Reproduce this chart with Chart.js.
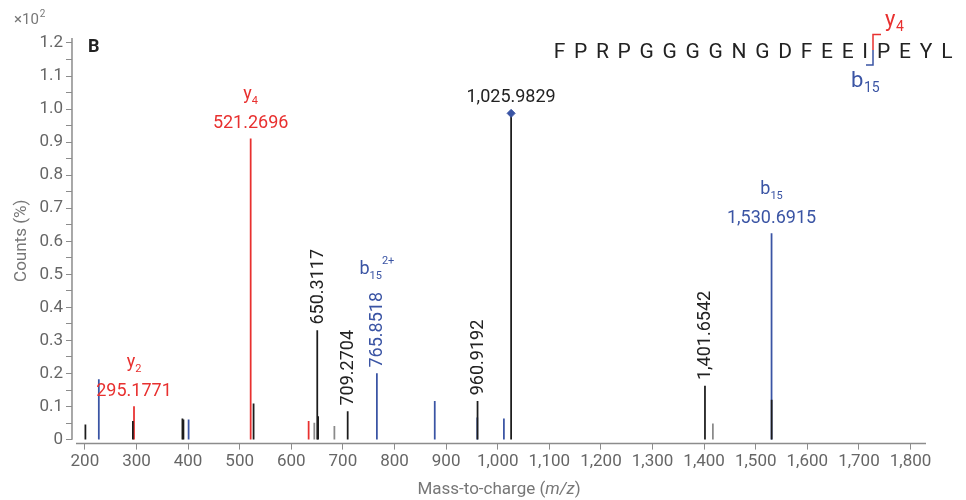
<!DOCTYPE html>
<html>
<head>
<meta charset="utf-8">
<script src="https://cdn.jsdelivr.net/npm/chart.js@4.4.1/dist/chart.umd.min.js"></script>
<style>
  html, body { margin: 0; padding: 0; background: #fff; }
  #wrap { width: 966px; height: 500px; position: relative; }
</style>
</head>
<body>
<div id="wrap"><canvas id="canvas"></canvas></div>
<script>
// tick values
const xTicks = [200, 300, 400, 500, 600, 700, 800, 900, 1000, 1100, 1200, 1300, 1400, 1500, 1600, 1700, 1800];
const yTicks = [0, 0.05, 0.1, 0.15, 0.2, 0.25, 0.3, 0.35, 0.4, 0.45, 0.5, 0.55, 0.6,
  0.65, 0.7, 0.75, 0.8, 0.85, 0.9, 0.95, 1.0, 1.05, 1.1, 1.15, 1.2];

// peaks (m/z, counts x10^2 %)
const blackMz = [201, 293, 389, 391, 526.9, 650.3117, 652, 709.2704, 960.9192, 1025.9829, 1401.6542, 1530.9];
const blackCounts = [0.045, 0.055, 0.063, 0.06, 0.108, 0.33, 0.07, 0.085, 0.116, 0.987, 0.162, 0.12];
const grayMz = [644.6, 683.5, 1417];
const grayCounts = [0.05, 0.04, 0.048];
const redMz = [295.1771, 521.2696, 633.6];
const redCounts = [0.10, 0.91, 0.055];
const blueMz = [227, 401, 765.8518, 878, 960.4, 1012, 1530.6915];
const blueCounts = [0.182, 0.06, 0.2, 0.116, 0.066, 0.063, 0.623];

const precursorMz = [1025.9829];
const precursorCounts = [0.987];

// peak annotations
const peakLabels = [
  { mz: 295.1771, count: 0.10, text: '295.1771', ion: 'y', sub: '2', sup: '', series: 'red', rotated: false },
  { mz: 521.2696, count: 0.91, text: '521.2696', ion: 'y', sub: '4', sup: '', series: 'red', rotated: false },
  { mz: 650.3117, count: 0.33, text: '650.3117', ion: '', sub: '', sup: '', series: 'black', rotated: true },
  { mz: 709.2704, count: 0.085, text: '709.2704', ion: '', sub: '', sup: '', series: 'black', rotated: true },
  { mz: 765.8518, count: 0.2, text: '765.8518', ion: 'b', sub: '15', sup: '2+', series: 'blue', rotated: true },
  { mz: 960.9192, count: 0.116, text: '960.9192', ion: '', sub: '', sup: '', series: 'black', rotated: true },
  { mz: 1025.9829, count: 0.987, text: '1,025.9829', ion: '', sub: '', sup: '', series: 'black', rotated: false },
  { mz: 1401.6542, count: 0.162, text: '1,401.6542', ion: '', sub: '', sup: '', series: 'black', rotated: true },
  { mz: 1530.6915, count: 0.623, text: '1,530.6915', ion: 'b', sub: '15', sup: '', series: 'blue', rotated: false },
];

const sequenceLeft = ['F', 'P', 'R', 'P', 'G', 'G', 'G', 'G', 'N', 'G', 'D', 'F', 'E', 'E', 'I'];
const sequenceRight = ['P', 'E', 'Y', 'L'];

const colors = { black: '#1c1c1c', gray: '#8a8a8a', red: '#e8302f', blue: '#3a54a4' };
const axisColor = '#8c8c8c';
const FONT = 'Roboto';

function toPoints(xs, ys) {
  return xs.map((v, i) => ({ x: v, y: ys[i] }));
}

function drawIon(ctx, cx, base, ion, sub, sup, color, size) {
  const subSize = Math.round(size * 0.62);
  ctx.font = size + 'px ' + FONT;
  const w1 = ctx.measureText(ion).width;
  ctx.font = subSize + 'px ' + FONT;
  const w2 = ctx.measureText(sub).width;
  const w3 = sup ? ctx.measureText(sup).width : 0;
  let left = cx - (w1 + w2 + w3) / 2;
  ctx.fillStyle = color;
  ctx.textAlign = 'left';
  ctx.textBaseline = 'alphabetic';
  ctx.font = size + 'px ' + FONT;
  ctx.fillText(ion, left, base);
  ctx.font = subSize + 'px ' + FONT;
  ctx.fillText(sub, left + w1, base + size * 0.3);
  if (sup) ctx.fillText(sup, left + w1 + w2, base - size * 0.55);
}

// letters spaced out with a fixed gap between glyphs
function drawLetters(ctx, letters, x, base, gap, alignRight) {
  const widths = letters.map(c => ctx.measureText(c).width);
  const total = widths.reduce((a, b) => a + b, 0) + gap * (letters.length - 1);
  let pos = alignRight ? x - total : x;
  ctx.textAlign = 'left';
  letters.forEach((c, i) => {
    ctx.fillText(c, pos, base);
    pos += widths[i] + gap;
  });
}

const annotate = {
  id: 'annotate',
  afterDatasetsDraw(chart) {
    const { ctx, chartArea, scales: { x, y } } = chart;
    ctx.save();

    // axis lines: y stops at 0, x starts a little right of the y axis
    ctx.strokeStyle = axisColor;
    ctx.lineWidth = 1.5;
    ctx.beginPath();
    ctx.moveTo(chartArea.left, chartArea.top);
    ctx.lineTo(chartArea.left, y.getPixelForValue(0));
    ctx.moveTo(chartArea.left + 4, chartArea.bottom);
    ctx.lineTo(chartArea.right, chartArea.bottom);
    ctx.stroke();

    peakLabels.forEach(l => {
      const px = x.getPixelForValue(l.mz);
      const top = y.getPixelForValue(l.count);
      const col = colors[l.series] === colors.black ? '#222' : colors[l.series];
      ctx.fillStyle = col;
      ctx.font = '18px ' + FONT;
      if (l.rotated) {
        const w = ctx.measureText(l.text).width;
        ctx.save();
        ctx.translate(px + 1, top - 6);
        ctx.rotate(-Math.PI / 2);
        ctx.textAlign = 'left';
        ctx.textBaseline = 'middle';
        ctx.fillText(l.text, 0, 0);
        ctx.restore();
        if (l.ion) drawIon(ctx, px, top - 6 - w - 18, l.ion, l.sub, l.sup, col, 18);
      } else {
        ctx.textAlign = 'center';
        ctx.textBaseline = 'alphabetic';
        ctx.fillText(l.text, px, top - 11);
        if (l.ion) drawIon(ctx, px, top - 40, l.ion, l.sub, l.sup, col, 18);
      }
    });

    // panel letter and multiplier
    ctx.fillStyle = '#222';
    ctx.font = 'bold 18px ' + FONT;
    ctx.textAlign = 'left';
    ctx.textBaseline = 'middle';
    ctx.fillText('B', chartArea.left + 16, chartArea.top + 9);

    ctx.fillStyle = '#777';
    ctx.font = '15px ' + FONT;
    ctx.textBaseline = 'alphabetic';
    ctx.fillText('\u00d710', 14, 24);
    const wx = ctx.measureText('\u00d710').width;
    ctx.font = '10px ' + FONT;
    ctx.fillText('2', 14 + wx + 1, 17);

    // peptide sequence with cleavage marker
    const cut = 873;
    ctx.fillStyle = '#222';
    ctx.font = '21px ' + FONT;
    drawLetters(ctx, sequenceLeft, cut - 5, 58, 8.7, true);
    drawLetters(ctx, sequenceRight, cut + 4, 58, 8.8, false);

    ctx.lineWidth = 1.5;
    ctx.strokeStyle = colors.red;
    ctx.beginPath();
    ctx.moveTo(cut + 8, 34.5); ctx.lineTo(cut, 34.5); ctx.lineTo(cut, 50);
    ctx.stroke();
    ctx.strokeStyle = colors.blue;
    ctx.beginPath();
    ctx.moveTo(cut, 50); ctx.lineTo(cut, 65); ctx.lineTo(cut - 7, 65);
    ctx.stroke();

    ctx.textAlign = 'left';
    ctx.fillStyle = colors.red;
    ctx.font = '22px ' + FONT;
    ctx.fillText('y', 885, 26);
    ctx.font = '14px ' + FONT;
    ctx.fillText('4', 896, 31);
    ctx.fillStyle = colors.blue;
    ctx.font = '22px ' + FONT;
    ctx.fillText('b', 851, 87);
    ctx.font = '14px ' + FONT;
    ctx.fillText('15', 864, 92);

    // x axis title with italic m/z
    ctx.fillStyle = '#777';
    ctx.textBaseline = 'middle';
    const parts = [['Mass-to-charge (', ''], ['m/z', 'italic '], [')', '']];
    let total = 0;
    parts.forEach(p => { ctx.font = p[1] + '17px ' + FONT; total += ctx.measureText(p[0]).width; });
    let left = (chartArea.left + chartArea.right) / 2 - total / 2;
    parts.forEach(p => {
      ctx.font = p[1] + '17px ' + FONT;
      ctx.fillText(p[0], left, 490);
      left += ctx.measureText(p[0]).width;
    });
    ctx.restore();
  }
};

const barStyle = { barThickness: 1.1, grouped: false, borderWidth: 0 };

const ctx = document.getElementById('canvas').getContext('2d');
const chart = new Chart(ctx, {
  type: 'bar',
  data: {
    datasets: [
      { type: 'scatter', data: toPoints(precursorMz, precursorCounts), pointStyle: 'rectRot',
        pointRadius: 4, backgroundColor: colors.blue, borderColor: colors.blue },
      { data: toPoints(blackMz, blackCounts), backgroundColor: colors.black, ...barStyle },
      { data: toPoints(redMz, redCounts), backgroundColor: colors.red, ...barStyle },
      { data: toPoints(blueMz, blueCounts), backgroundColor: colors.blue, ...barStyle },
      { data: toPoints(grayMz, grayCounts), backgroundColor: colors.gray, ...barStyle },
    ]
  },
  options: {
    responsive: true,
    maintainAspectRatio: false,
    animation: false,
    layout: { padding: { top: 38, right: 40, bottom: 26, left: 12 } },
    plugins: { legend: { display: false }, tooltip: { enabled: false } },
    scales: {
      x: {
        type: 'linear',
        min: 175,
        max: 1830,
        offset: false,
        afterBuildTicks: (scale) => { scale.ticks = xTicks.map(v => ({ value: v })); },
        ticks: {
          autoSkip: false,
          maxRotation: 0,
          color: '#666',
          font: { family: FONT, size: 17 },
          padding: 2,
          callback: (v) => Number(v).toLocaleString('en-US'),
        },
        grid: { drawOnChartArea: false, tickLength: 6, color: axisColor, offset: false },
        border: { display: false },
      },
      y: {
        min: -0.012,
        max: 1.215,
        afterBuildTicks: (scale) => { scale.ticks = yTicks.map(v => ({ value: v })); },
        ticks: {
          autoSkip: false,
          color: '#666',
          font: { family: FONT, size: 17 },
          padding: 3,
          callback: (v) => {
            const t = Math.round(v * 100);
            if (t % 10 !== 0) return '';
            return t === 0 ? '0' : (t / 100).toFixed(1);
          },
        },
        grid: { drawOnChartArea: false, tickLength: 6, color: axisColor },
        border: { display: false },
        title: {
          display: true,
          text: 'Counts (%)',
          color: '#777',
          font: { family: FONT, size: 17 },
          padding: { top: 0, bottom: 4 },
        },
      }
    }
  },
  plugins: [annotate]
});
</script>
</body>
</html>
